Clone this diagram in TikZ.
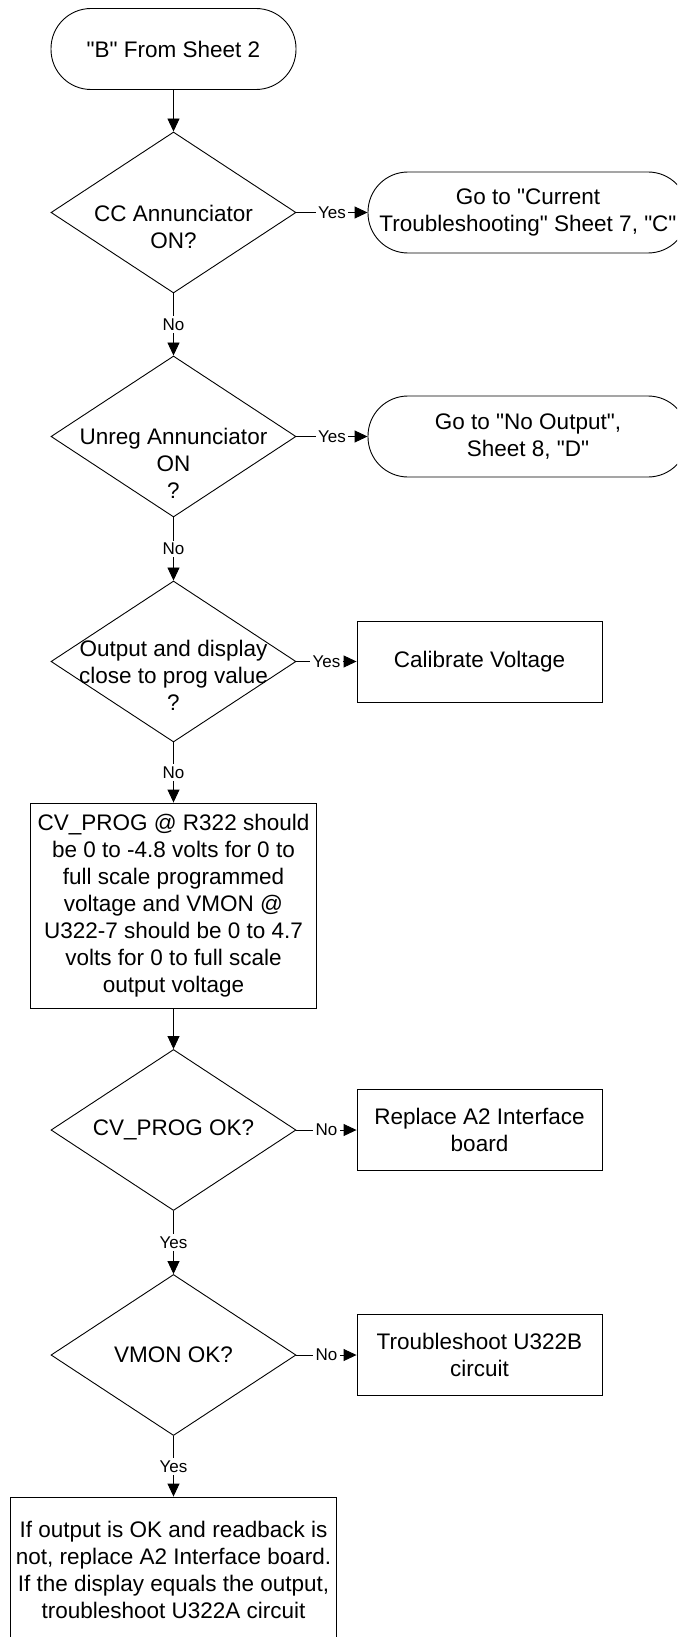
\documentclass[tikz,border=0pt]{standalone}
\usepackage{fontspec}
\setmainfont{Liberation Sans}[Ligatures=TeXOff]
\usetikzlibrary{arrows.meta,shapes.geometric}
\begin{document}
\begin{tikzpicture}[x=1pt,y=-1pt,
  base/.style={draw=black, line width=0.9pt, inner sep=0pt, align=center, font=\fontsize{22.5}{27}\selectfont},
  term/.style={base, rectangle, rounded corners=40pt, minimum height=81pt},
  procbox/.style={base, rectangle, minimum width=245pt, minimum height=81pt},
  dia/.style={base, diamond, minimum width=245pt, minimum height=161pt},
  txt/.style={align=center, font=\fontsize{22.5}{27}\selectfont, inner sep=0pt},
  lbl/.style={fill=white, inner sep=2.5pt, font=\fontsize{17}{20}\selectfont},
  arr/.style={line width=0.9pt, -{Triangle[length=13pt,width=12pt]}},
]
\useasboundingbox (0,0) rectangle (677,1637);
\clip (0,0) rectangle (677,1637);

\node[term, minimum width=245pt] (s) at (173.5,49) {"B" From Sheet 2};

\node[dia, label={[txt,yshift=-14pt]center:CC Annunciator\\ON?}] (d1) at (173.5,212.5) {};
\node[term, minimum width=320pt] (t2) at (528,212.5) {Go to "Current\\Troubleshooting" Sheet 7, "C"};

\node[dia, label={[txt,yshift=-27pt]center:Unreg Annunciator\\ON\\?}] (d2) at (173.5,436.5) {};
\node[term, minimum width=320pt] (t3) at (528,436.5) {Go to "No Output",\\Sheet 8, "D"};

\node[dia, label={[txt,yshift=-14pt]center:Output and display\\close to prog value\\?}] (d3) at (173.5,661.5) {};
\node[procbox] (c) at (479.5,661.5) {Calibrate Voltage};

\node[base, rectangle, minimum width=286pt, minimum height=205pt] (b) at (173.5,905.5)
  {CV\_PROG @ R322 should\\be 0 to -4.8 volts for 0 to\\full scale programmed\\voltage and VMON @\\U322-7 should be 0 to 4.7\\volts for 0 to full scale\\output voltage};

\node[dia, label={[txt]center:CV\_PROG OK?}] (d4) at (173.5,1130) {};
\node[procbox] (r) at (479.5,1130) {Replace A2 Interface\\board};

\node[dia, label={[txt]center:VMON OK?}] (d5) at (173.5,1355) {};
\node[procbox] (tr) at (479.5,1355) {Troubleshoot U322B\\circuit};

\node[base, rectangle, minimum width=326pt, minimum height=145pt] (f) at (173.5,1569.5)
  {If output is OK and readback is\\not, replace A2 Interface board.\\If the display equals the output,\\troubleshoot U322A circuit};

\draw[arr] (s) -- (d1);
\draw[arr] (d1) -- node[lbl]{Yes} (t2);
\draw[arr] (d1) -- node[lbl]{No} (d2);
\draw[arr] (d2) -- node[lbl]{Yes} (t3);
\draw[arr] (d2) -- node[lbl]{No} (d3);
\draw[arr] (d3) -- node[lbl]{Yes} (c);
\draw[arr] (d3) -- node[lbl]{No} (b);
\draw[arr] (b) -- (d4);
\draw[arr] (d4) -- node[lbl]{No} (r);
\draw[arr] (d4) -- node[lbl]{Yes} (d5);
\draw[arr] (d5) -- node[lbl]{No} (tr);
\draw[arr] (d5) -- node[lbl]{Yes} (f);
\end{tikzpicture}
\end{document}
